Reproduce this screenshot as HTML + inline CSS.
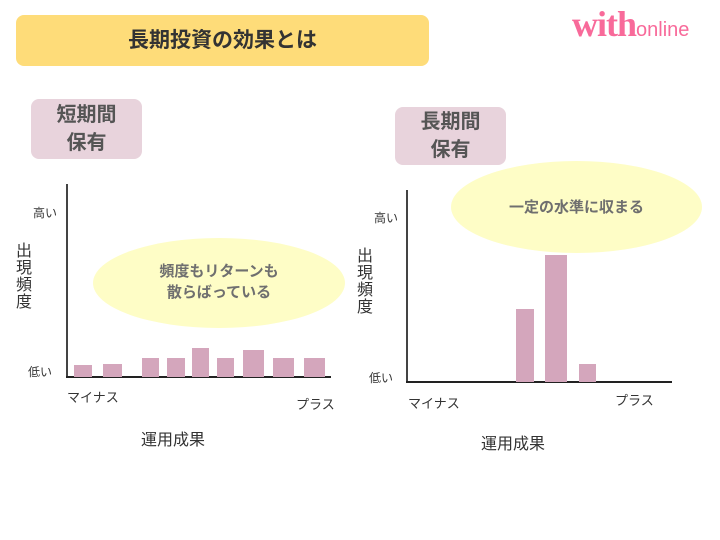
<!DOCTYPE html>
<html><head><meta charset="utf-8"><style>
body{margin:0;width:720px;height:540px;background:#fff;position:relative;overflow:hidden;font-family:"Liberation Sans","Noto Sans CJK JP",sans-serif;}
.a{position:absolute;}
.t{color:#333;font-size:13px;}
.b{position:absolute;background:#d4a6bc;}
</style></head><body>
<div class="a" style="left:16px;top:15px;width:413px;height:51px;background:#fedc79;border-radius:8px;"></div>
<div class="a" style="left:16px;top:15px;width:413px;height:51px;line-height:51px;text-align:center;font-size:21px;font-weight:bold;color:#333;">長期投資の効果とは</div>
<div class="a" style="left:572px;top:3px;font-family:'Liberation Serif',serif;font-weight:bold;font-size:36px;color:#f86a9a;letter-spacing:-1px;white-space:nowrap;">with<span style="font-family:'Liberation Sans',sans-serif;font-weight:normal;font-size:20px;letter-spacing:0">online</span></div>

<div class="a" style="left:31px;top:99px;width:111px;height:60px;background:#e8d3dc;border-radius:8px;color:#555;font-weight:bold;font-size:20px;text-align:center;line-height:28px;padding-top:2px;box-sizing:border-box;">短期間<br>保有</div>
<div class="a" style="left:395px;top:107px;width:111px;height:58px;background:#e8d3dc;border-radius:8px;color:#555;font-weight:bold;font-size:20px;text-align:center;line-height:28px;padding-top:1px;box-sizing:border-box;">長期間<br>保有</div>

<!-- left chart -->
<div class="a" style="left:66px;top:184px;width:2px;height:194px;background:#444;"></div>
<div class="a" style="left:66px;top:376px;width:265px;height:2px;background:#222;"></div>
<div class="a t" style="left:33px;top:204px;font-size:12px;">高い</div>
<div class="a t" style="left:28px;top:363px;font-size:12px;">低い</div>
<div class="a t" style="left:16px;top:243px;font-size:16px;width:18px;line-height:17px;">出現頻度</div>
<div class="a t" style="left:67px;top:387px;">マイナス</div>
<div class="a t" style="left:296px;top:394px;">プラス</div>
<div class="a t" style="left:141px;top:426px;font-size:16px;">運用成果</div>
<div class="b" style="left:74px;top:365px;width:18px;height:12px"></div>
<div class="b" style="left:103px;top:364px;width:19px;height:13px"></div>
<div class="b" style="left:142px;top:358px;width:17px;height:19px"></div>
<div class="b" style="left:167px;top:358px;width:18px;height:19px"></div>
<div class="b" style="left:192px;top:348px;width:17px;height:29px"></div>
<div class="b" style="left:217px;top:358px;width:17px;height:19px"></div>
<div class="b" style="left:243px;top:350px;width:21px;height:27px"></div>
<div class="b" style="left:273px;top:358px;width:21px;height:19px"></div>
<div class="b" style="left:304px;top:358px;width:21px;height:19px"></div>
<div class="a" style="left:93px;top:238px;width:252px;height:90px;border-radius:50%;background:#fefdc6;"></div>
<div class="a" style="left:93px;top:261px;width:252px;text-align:center;font-size:15px;font-weight:bold;color:#6f6f6f;line-height:21px;">頻度もリターンも<br>散らばっている</div>

<!-- right chart -->
<div class="a" style="left:406px;top:190px;width:2px;height:193px;background:#444;"></div>
<div class="a" style="left:406px;top:381px;width:266px;height:2px;background:#222;"></div>
<div class="a t" style="left:374px;top:209px;font-size:12px;">高い</div>
<div class="a t" style="left:369px;top:369px;font-size:12px;">低い</div>
<div class="a t" style="left:357px;top:248px;font-size:16px;width:18px;line-height:17px;">出現頻度</div>
<div class="a t" style="left:408px;top:393px;">マイナス</div>
<div class="a t" style="left:615px;top:390px;">プラス</div>
<div class="a t" style="left:481px;top:430px;font-size:16px;">運用成果</div>
<div class="b" style="left:516px;top:309px;width:18px;height:73px"></div>
<div class="b" style="left:545px;top:255px;width:22px;height:127px"></div>
<div class="b" style="left:579px;top:364px;width:17px;height:18px"></div>
<div class="a" style="left:451px;top:161px;width:251px;height:92px;border-radius:50%;background:#fefdc6;"></div>
<div class="a" style="left:451px;top:196px;width:251px;text-align:center;font-size:15px;font-weight:bold;color:#6f6f6f;">一定の水準に収まる</div>
</body></html>
